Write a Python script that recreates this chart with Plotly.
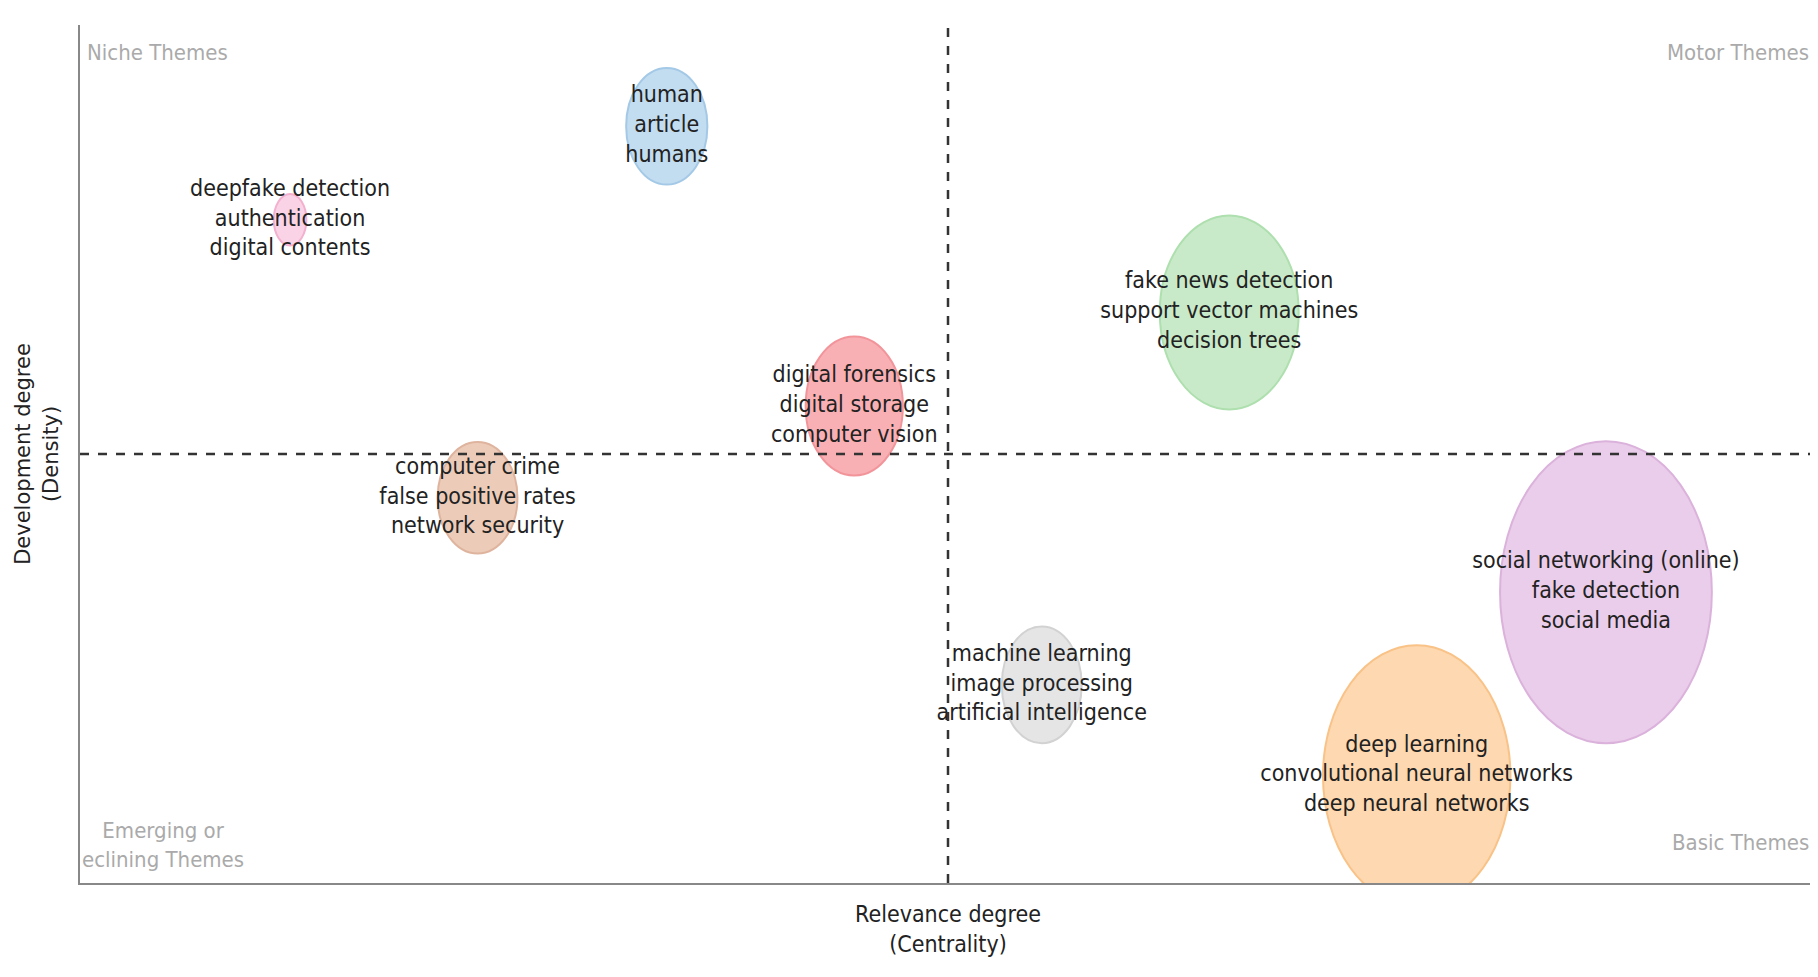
import plotly.graph_objects as go

labels = ["deepfake detection<br>authentication<br>digital contents",
          "human<br>article<br>humans",
          "digital forensics<br>digital storage<br>computer vision",
          "computer crime<br>false positive rates<br>network security",
          "fake news detection<br>support vector machines<br>decision trees",
          "social networking (online)<br>fake detection<br>social media",
          "machine learning<br>image processing<br>artificial intelligence",
          "deep learning<br>convolutional neural networks<br>deep neural networks"]
centrality = [0.121, 0.338, 0.446, 0.229, 0.662, 0.879, 0.554, 0.770]
density = [0.773, 0.882, 0.556, 0.449, 0.665, 0.339, 0.231, 0.125]
rad_x = [0.0094, 0.0234, 0.028, 0.023, 0.040, 0.061, 0.023, 0.054]
rad_y = [0.030, 0.068, 0.081, 0.065, 0.113, 0.176, 0.068, 0.152]
fills = ["#fad3e6", "#c2dcf0", "#f9b0b4", "#ecccb9", "#c9eac9", "#eacdea", "#e5e5e5", "#fdd8b0"]
edges = ["#f3b0cf", "#a3c9e7", "#f2959b", "#dfb49e", "#aedfae", "#dbb2db", "#d2d2d2", "#f9c287"]

fig = go.Figure()
for i in range(len(labels)):
    fig.add_shape(type="circle", xref="x", yref="y", layer="below",
                  x0=centrality[i]-rad_x[i], x1=centrality[i]+rad_x[i],
                  y0=density[i]-rad_y[i], y1=density[i]+rad_y[i],
                  fillcolor=fills[i], line=dict(color=edges[i], width=2))

fig.add_trace(go.Scatter(x=centrality, y=density, mode="text", text=labels,
                         textfont=dict(family="DejaVu Sans Condensed, Liberation Sans Narrow, Roboto", size=23, color="#222"),
                         hoverinfo="skip", showlegend=False, cliponaxis=False))

fig.add_shape(type="line", xref="x", yref="paper", x0=0.5, x1=0.5, y0=0, y1=1,
              line=dict(color="#333", width=2.5, dash="dash"))
fig.add_shape(type="line", xref="paper", yref="y", x0=0, x1=1, y0=0.5, y1=0.5,
              line=dict(color="#333", width=2.5, dash="dash"))

corner = dict(family="DejaVu Sans Condensed, Liberation Sans Narrow, Roboto", size=22, color="#aaaaaa")
fig.add_annotation(x=0.003, y=0.985, xref="paper", yref="paper", text="Niche Themes", showarrow=False, xanchor="left", yanchor="top", font=corner)
fig.add_annotation(x=0.997, y=0.985, xref="paper", yref="paper", text="Motor Themes", showarrow=False, xanchor="right", yanchor="top", font=corner)
fig.add_annotation(x=0.0, y=0.01, xref="paper", yref="paper", text="Emerging or<br>eclining Themes", showarrow=False, xanchor="left", yanchor="bottom", font=corner, align="center")
fig.add_annotation(x=0.997, y=0.03, xref="paper", yref="paper", text="Basic Themes", showarrow=False, xanchor="right", yanchor="bottom", font=corner)

fig.update_layout(
    width=1818, height=977, plot_bgcolor="white", paper_bgcolor="white",
    margin=dict(l=72, r=10, t=17, b=102),
    xaxis=dict(range=[0, 1], showgrid=False, zeroline=False, showticklabels=False, ticks="",
               showline=True, linecolor="#888", linewidth=2,
               title=dict(text="Relevance degree<br>(Centrality)", standoff=22,
                          font=dict(family="DejaVu Sans Condensed, Liberation Sans Narrow, Roboto", size=23, color="#222"))),
    yaxis=dict(range=[0, 1], showgrid=False, zeroline=False, showticklabels=False, ticks="",
               showline=True, linecolor="#888", linewidth=2,
               title=dict(text="Development degree<br>(Density)", standoff=14,
                          font=dict(family="DejaVu Sans, Verdana", size=21, color="#222"))),
)
fig.write_html("out.html")
